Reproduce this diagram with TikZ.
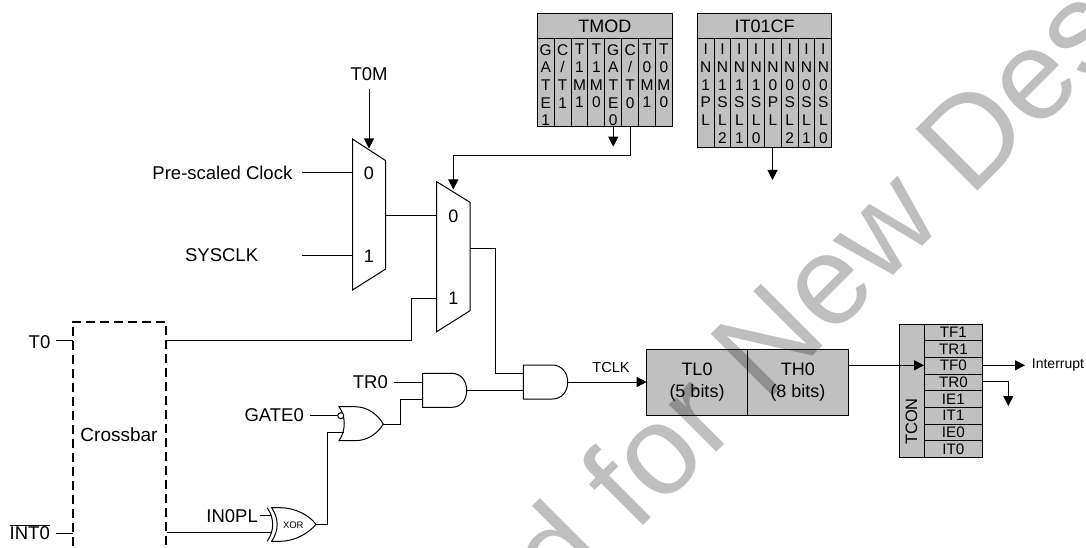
\documentclass[tikz,border=0pt]{standalone}
\usepackage{fontspec}
\setmainfont{Liberation Sans}
\usetikzlibrary{arrows.meta}
\definecolor{regfill}{HTML}{C0C0C0}
\tikzset{
  x=1pt,y=-1pt,
  wire/.style={draw=black,line width=1pt},
  arr/.style={wire,-{Triangle[length=10pt,width=10pt]}},
  gate/.style={draw=black,line width=1pt,fill=white,line join=miter},
  lbl/.style={font=\fontsize{18.5}{20}\selectfont,inner sep=0pt},
  lblr/.style={lbl,anchor=east},
  regbox/.style={draw=black,line width=1pt,fill=regfill,inner sep=0pt,outer sep=0pt,anchor=north west},
  regcol/.style={font=\fontsize{15.5}{17.7}\selectfont,align=center,inner sep=0pt,anchor=north},
  head/.style={regbox,font=\fontsize{18}{20}\selectfont,minimum width=135pt,minimum height=25pt},
  colbox/.style={regbox,minimum width=16.875pt},
  tconrow/.style={regbox,font=\fontsize{15.2}{16}\selectfont,minimum width=58.7pt,minimum height=16.67pt},
  muxnum/.style={font=\fontsize{18}{20}\selectfont,inner sep=0pt},
}
\newcommand{\regcolumn}[4]{% name, x, height, letters
  \node[colbox,minimum height=#3pt] (#1) at (#2,39) {};
  \node[regcol] (#1t) at ([yshift=-5pt]#1.north) {#4};
}
\begin{document}
\begin{tikzpicture}
\path[use as bounding box,clip] (0,0) rectangle (1086,548);

% ---- TMOD
\node[head] (tmod) at (537.3,14) {TMOD};
\regcolumn{ma}{537.3}{88}{G\\A\\T\\E\\1}
\regcolumn{mb}{554.175}{88}{C\\/\\T\\1}
\regcolumn{mc}{571.05}{88}{T\\1\\M\\1}
\regcolumn{md}{587.925}{88}{T\\1\\M\\0}
\regcolumn{me}{604.8}{88}{G\\A\\T\\E\\0}
\regcolumn{mf}{621.675}{88}{C\\/\\T\\0}
\regcolumn{mg}{638.55}{88}{T\\0\\M\\1}
\regcolumn{mh}{655.425}{88}{T\\0\\M\\0}

% ---- IT01CF
\node[head,minimum width=134.4pt] (itcf) at (697.3,14) {IT01CF};
\regcolumn{ia}{697.3}{109}{I\\N\\1\\P\\L}
\regcolumn{ib}{714.1}{109}{I\\N\\1\\S\\L\\2}
\regcolumn{ic}{730.9}{109}{I\\N\\1\\S\\L\\1}
\regcolumn{id}{747.7}{109}{I\\N\\1\\S\\L\\0}
\regcolumn{ie}{764.5}{109}{I\\N\\0\\P\\L}
\regcolumn{if}{781.3}{109}{I\\N\\0\\S\\L\\2}
\regcolumn{ig}{798.1}{109}{I\\N\\0\\S\\L\\1}
\regcolumn{ih}{814.9}{109}{I\\N\\0\\S\\L\\0}

\coordinate (tmodout) at (613,146.7);
\coordinate (itout) at (772.5,180);
\draw[arr] (me.south) -- (me.south |- tmodout);
\draw[arr] (ie.south -| itout) -- (itout);

% ---- MUX 1
\path[gate] (352.5,139) coordinate (m1a) -- (385.7,160.7) -- (385.7,269) -- (352.5,290) -- cycle;
\coordinate (m1i0) at (352.5,172.7);
\coordinate (m1i1) at (352.5,255.7);
\coordinate (m1o) at (385.7,215);
\coordinate (m1s) at (369,148.5);
\node[muxnum] (m1n0) at (369,173.5) {0};
\node[muxnum] (m1n1) at (369,256.5) {1};
% ---- MUX 2
\path[gate] (436.7,181.7) -- (470,202.3) -- (470,310.7) -- (436.7,331.7) -- cycle;
\coordinate (m2i0) at (436.7,215);
\coordinate (m2i1) at (436.7,298.3);
\coordinate (m2o) at (470,248);
\coordinate (m2s) at (453.3,189.5);
\node[muxnum] (m2n0) at (453.3,216) {0};
\node[muxnum] (m2n1) at (453.3,298.5) {1};

% ---- input labels
\node[lbl,inner sep=0pt] (t0m) at (369,74.5) {T0M};
\coordinate (t0mb) at (369,89.3);
\node[lblr] (pre) at (292.5,173) {Pre-scaled Clock};
\coordinate (prel) at (302,172.7);
\node[lblr] (sys) at (258.3,255.5) {SYSCLK};
\coordinate (sysl) at (302,255.7);
\draw[arr] (t0mb) -- (m1s);
\draw[wire] (prel) -- (m1i0);
\draw[wire] (sysl) -- (m1i1);
\draw[wire] (m1o) -- (m2i0);
\coordinate (m2selcorner) at (453.3,156);
\draw[arr] (mf.south) |- (m2selcorner) -- (m2s);

% ---- Crossbar
\draw[draw=black,line width=1.9pt,dash pattern=on 9pt off 5pt] (72.7,560) coordinate (cbll) -- (72.7,321.7) -- (165.7,321.7) -- (165.7,560);
\node[lbl,font=\fontsize{19}{22}\selectfont] (cross) at (119,435) {Crossbar};
\node[lblr] (t0) at (50.5,342) {T0};
\node[lblr] (int0) at (50,532) {$\overline{\mbox{INT0}}$};
\coordinate (t0a) at (56,340);
\coordinate (t0b) at (72.7,340);
\coordinate (inta) at (56,533);
\coordinate (intb) at (72.7,533);
\draw[wire] (t0a) -- (t0b);
\draw[wire] (inta) -- (intb);
\coordinate (cbr1) at (167,340.3);
\coordinate (cbr2) at (167,532.7);
\coordinate (jog) at (411.3,340.3);
\draw[wire] (cbr1) -- (jog) -- (jog |- m2i1) -- (m2i1);

% ---- XOR
\path[gate] (271.7,507.7) -- (280,507.7) .. controls (295,507.7) and (309,515) .. (316,524.3)
  .. controls (309,533) and (295,541.3) .. (280,541.3) -- (271.7,541.3)
  .. controls (279,530) and (279,519) .. (271.7,507.7) -- cycle;
\draw[gate,fill=none] (267.3,507.7) .. controls (274.5,519) and (274.5,530) .. (267.3,541.3);
\node[inner sep=0pt,font=\fontsize{9.5}{10}\selectfont] (xort) at (293.3,524.8) {XOR};
\coordinate (xoro) at (316,524.3);
\coordinate (xori2) at (272,532.7);
\coordinate (xori1) at (272,515.7);
\node[lblr] (inpl) at (258,516.5) {IN0PL};
\coordinate (inpll) at (260,515.7);
\draw[wire] (inpll) -- (xori1);
\draw[wire] (cbr2) -- (xori2);

% ---- OR
\path[gate] (339,406.7) -- (355,406.7) .. controls (368,406.7) and (378,415) .. (383.3,424)
  .. controls (378,433) and (368,440.7) .. (355,440.7) -- (339,440.7)
  .. controls (346,431) and (346,416) .. (339,406.7) -- cycle;
\node[circle,draw=black,line width=1pt,fill=white,inner sep=0pt,minimum size=6pt] (bub) at (340.7,415.7) {};
\coordinate (oro) at (383.3,424);
\coordinate (ori2) at (344,432);
\coordinate (xorcorner) at (327,432);
\draw[wire] (xoro) -| (xorcorner) -- (ori2);
\node[lblr] (gate0) at (304,415) {GATE0};
\coordinate (gate0l) at (310,415.7);
\draw[wire] (gate0l) -- (bub.west);

% ---- AND 1
\path[gate] (422.7,373.3) -- (451.7,373.3) .. controls (461,373.3) and (466.7,381) .. (466.7,390.3)
  .. controls (466.7,400) and (461,407.3) .. (451.7,407.3) -- (422.7,407.3) -- cycle;
\coordinate (a1i1) at (422.7,382.3);
\coordinate (a1i2) at (422.7,399);
\coordinate (a1o) at (466.7,390.3);
\node[lblr] (tr0) at (388,382) {TR0};
\coordinate (tr0l) at (394,382.3);
\draw[wire] (tr0l) -- (a1i1);
\coordinate (orjog) at (400.7,424);
\draw[wire] (oro) -- (orjog) |- (a1i2);

% ---- AND 2
\path[gate] (523.3,365) -- (552.3,365) .. controls (561.6,365) and (567.7,372.7) .. (567.7,382)
  .. controls (567.7,391.7) and (561.6,399) .. (552.3,399) -- (523.3,399) -- cycle;
\coordinate (a2i1) at (523.3,373.7);
\coordinate (a2i2) at (523.3,390.3);
\coordinate (a2o) at (567.7,382);
\draw[wire] (a1o) -- (a2i2);
\coordinate (m2corner) at (495.3,248);
\draw[wire] (m2o) -- (m2corner) |- (a2i1);

% ---- TL0 / TH0
\node[regbox,align=center,minimum width=100.6pt,minimum height=66.3pt,font=\fontsize{18}{21.5}\selectfont] (tl) at (646.7,349) {TL0\\(5 bits)};
\node[regbox,align=center,minimum width=101pt,minimum height=66.3pt,font=\fontsize{18}{21.5}\selectfont] (th) at (747.3,349) {TH0\\(8 bits)};
\draw[arr] (a2o) -- (tl.west |- a2o);
\node[inner sep=0pt,font=\fontsize{14.6}{16}\selectfont] (tclk) at (611,367.7) {TCLK};

% ---- TCON
\node[regbox,minimum width=25pt,minimum height=133.3pt] (tcon) at (899,324) {};
\node[inner sep=0pt,rotate=90,font=\fontsize{16.5}{18}\selectfont] (tcont) at (911.5,421.5) {TCON};
\node[tconrow] (r1) at (924,324) {TF1};
\node[tconrow] (r2) at (924,340.67) {TR1};
\node[tconrow] (r3) at (924,357.33) {TF0};
\node[tconrow] (r4) at (924,374) {TR0};
\node[tconrow] (r5) at (924,390.67) {IE1};
\node[tconrow] (r6) at (924,407.33) {IT1};
\node[tconrow] (r7) at (924,424) {IE0};
\node[tconrow] (r8) at (924,440.67) {IT0};
\coordinate (thtc) at (848.3,365.3);
\draw[arr] (thtc) -- (r3.west |- thtc);
\coordinate (intarrow) at (1025,365.3);
\draw[arr] (r3.east |- intarrow) -- (intarrow);
\node[inner sep=0pt,anchor=west,font=\fontsize{14}{16}\selectfont] (intr) at (1031.7,365) {Interrupt};
\coordinate (tr0out) at (1008.3,381.7);
\coordinate (tr0end) at (1008.3,406);
\draw[arr] (r4.east |- tr0out) -- (tr0out) -- (tr0end);

% ---- watermark
\node[anchor=base west,inner sep=0pt,rotate=45,text=black,text opacity=.25,font=\fontsize{127}{130}\selectfont] (wm) at (561,608) {d for New Des};
\end{tikzpicture}
\end{document}
